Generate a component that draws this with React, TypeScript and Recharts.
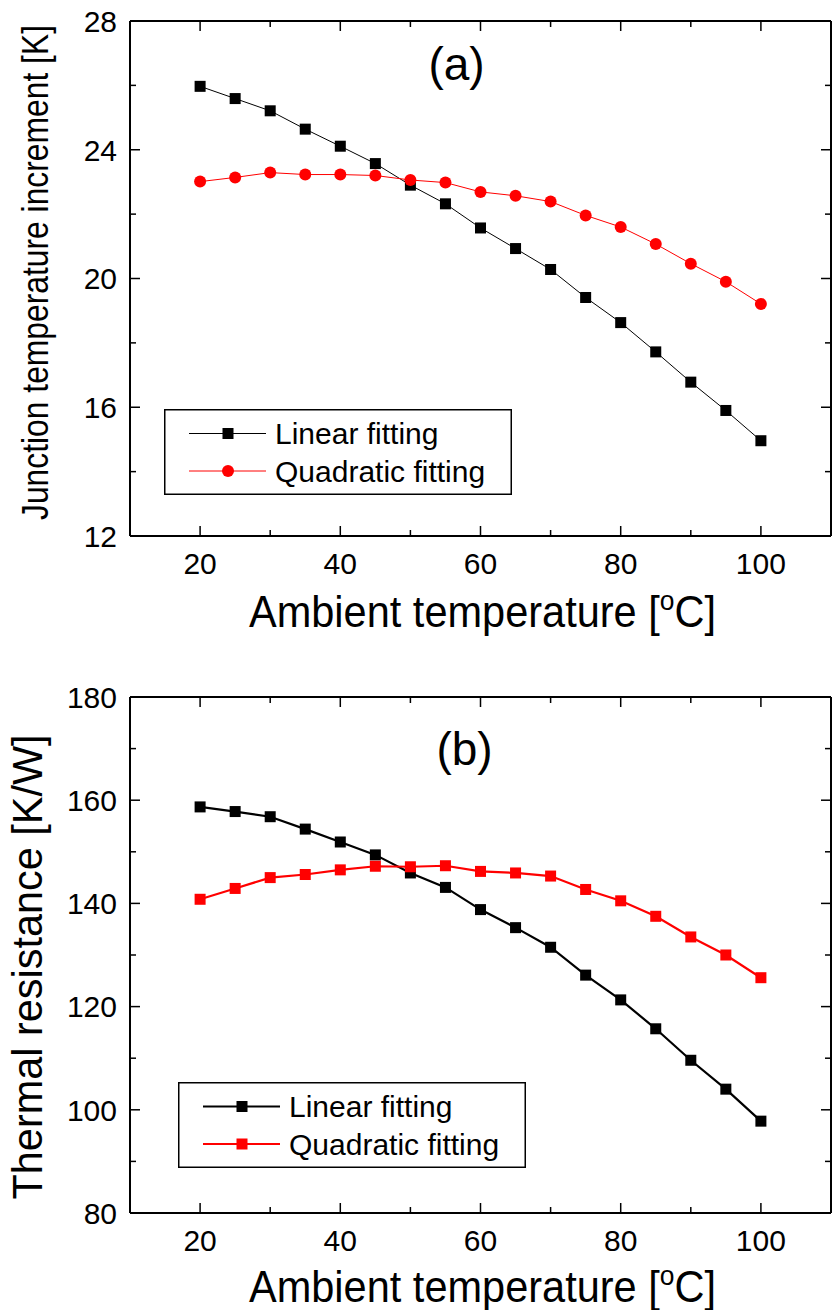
import React from 'react';
import { LineChart, Line, XAxis, YAxis, Legend } from 'recharts';

// Ambient temperature sweep (°C)
const ambientTemps = [20, 25, 30, 35, 40, 45, 50, 55, 60, 65, 70, 75, 80, 85, 90, 95, 100];

// (a) Junction temperature increment [K]
const junctionLinear = [25.97, 25.59, 25.21, 24.64, 24.11, 23.57, 22.9, 22.32, 21.57, 20.93, 20.28, 19.41, 18.63, 17.72, 16.78, 15.9, 14.96];
const junctionQuadratic = [23.01, 23.14, 23.29, 23.23, 23.23, 23.2, 23.06, 22.98, 22.69, 22.57, 22.39, 21.96, 21.6, 21.07, 20.46, 19.9, 19.21];

// (b) Thermal resistance [K/W]
const resistanceLinear = [158.7, 157.8, 156.8, 154.4, 151.9, 149.4, 145.9, 143.1, 138.8, 135.3, 131.5, 126.1, 121.3, 115.7, 109.6, 104.0, 97.8];
const resistanceQuadratic = [140.8, 142.9, 145.0, 145.6, 146.5, 147.2, 147.1, 147.3, 146.2, 145.9, 145.3, 142.7, 140.5, 137.5, 133.5, 130.0, 125.6];

// Axis ticks (majors are labelled, the rest are minor marks)
const xTicks = [20, 30, 40, 50, 60, 70, 80, 90, 100];
const xMajorTicks = [20, 40, 60, 80, 100];
const junctionTicks = [12, 14, 16, 18, 20, 22, 24, 26, 28];
const junctionMajorTicks = [12, 16, 20, 24, 28];
const resistanceTicks = [80, 90, 100, 110, 120, 130, 140, 150, 160, 170, 180];
const resistanceMajorTicks = [80, 100, 120, 140, 160, 180];

const seriesNames = ['Linear fitting', 'Quadratic fitting'];

const FONT = '"Liberation Sans", Arial, Helvetica, sans-serif';
const BLACK = '#000000';
const RED = '#ff0000';
const MAJOR = 10;
const MINOR = 6;

const buildRows = (lin: number[], quad: number[]) =>
  ambientTemps.map((t, i) => ({ t, linear: lin[i], quadratic: quad[i] }));

const junctionData = buildRows(junctionLinear, junctionQuadratic);
const resistanceData = buildRows(resistanceLinear, resistanceQuadratic);

type Side = 'left' | 'right' | 'top' | 'bottom';

const makeTick = (side: Side, majors: number[]) => (props: any) => {
  const { x, y, payload, index } = props;
  const v = payload.value;
  const len = majors.includes(v) ? MAJOR : MINOR;
  const showLabel = majors.includes(v);
  let line;
  let label = null;
  if (side === 'left') {
    line = <line x1={x} x2={x + len} y1={y} y2={y} stroke={BLACK} strokeWidth={1.5} />;
    if (showLabel)
      label = (
        <text x={x - 13} y={y} dy="0.36em" textAnchor="end" fontSize={30} fontFamily={FONT} fill={BLACK}>
          {v}
        </text>
      );
  } else if (side === 'right') {
    line = <line x1={x} x2={x - len} y1={y} y2={y} stroke={BLACK} strokeWidth={1.5} />;
  } else if (side === 'top') {
    line = <line x1={x} x2={x} y1={y} y2={y + len} stroke={BLACK} strokeWidth={1.5} />;
  } else {
    line = <line x1={x} x2={x} y1={y} y2={y - len} stroke={BLACK} strokeWidth={1.5} />;
    if (showLabel)
      label = (
        <text x={x} y={y + 38} textAnchor="middle" fontSize={30} fontFamily={FONT} fill={BLACK}>
          {v}
        </text>
      );
  }
  return (
    <g key={`tick-${side}-${index}`}>
      {line}
      {label}
    </g>
  );
};

const squareDot = (color: string) => (props: any) => {
  const { cx, cy, index } = props;
  if (cx == null || cy == null) return <g key={`sq-${index}`} />;
  return <rect key={`sq-${index}`} x={cx - 5.5} y={cy - 5.5} width={11} height={11} fill={color} />;
};

type Marker = 'square' | 'circle';

const legendContent =
  (markers: Record<string, Marker>, strokeWidth: number) =>
  (props: any) => {
    const payload = props.payload || [];
    return (
      <svg width={348} height={86} style={{ display: 'block', overflow: 'visible' }}>
        <rect x={0.75} y={0.75} width={346.5} height={84.5} fill="#ffffff" stroke={BLACK} strokeWidth={1.5} />
        {payload.map((item: any, i: number) => {
          const cy = 24.5 + i * 37.5;
          const color = item.color;
          const marker = markers[item.dataKey as string];
          return (
            <g key={`legend-${i}`}>
              <line x1={25} x2={102} y1={cy} y2={cy} stroke={color} strokeWidth={strokeWidth} />
              {marker === 'square' ? (
                <rect x={64 - 5.5} y={cy - 5.5} width={11} height={11} fill={color} />
              ) : (
                <circle cx={64} cy={cy} r={6} fill={color} />
              )}
              <text x={111} y={cy + 10.5} fontSize={30} fontFamily={FONT} fill={BLACK}>
                {item.value}
              </text>
            </g>
          );
        })}
      </svg>
    );
  };

interface PanelProps {
  data: any[];
  yDomain: [number, number];
  yTicks: number[];
  yMajors: number[];
  yTitle: string;
  yTitleSize: number;
  yTitleLength: number;
  yTitleBaseline: number;
  yTitleShift: number;
  panelLabel: string;
  panelLabelShift: number;
  panelLabelDrop: number;
  xTitleDrop: number;
  marginTop: number;
  marginBottom: number;
  legendTop: number;
  legendLeft: number;
  lineWidth: number;
  quadraticMarker: Marker;
}

function Panel(p: PanelProps) {
  const xTitle = (lp: any) => {
    const vb = lp.viewBox;
    return (
      <text
        x={vb.x + vb.width / 2 + 2}
        y={vb.y + p.xTitleDrop}
        textAnchor="middle"
        fontSize={44}
        fontFamily={FONT}
        fill={BLACK}
        textLength={467}
        lengthAdjust="spacingAndGlyphs"
      >
        Ambient temperature [
        <tspan fontSize={28} dy={-17}>o</tspan>
        <tspan dy={17}>C]</tspan>
      </text>
    );
  };

  const yTitle = (lp: any) => {
    const vb = lp.viewBox;
    const cy = vb.y + vb.height / 2 + p.yTitleShift;
    const bx = p.yTitleBaseline;
    return (
      <text
        x={bx}
        y={cy}
        transform={`rotate(-90, ${bx}, ${cy})`}
        textAnchor="middle"
        fontSize={p.yTitleSize}
        fontFamily={FONT}
        fill={BLACK}
        textLength={p.yTitleLength}
        lengthAdjust="spacingAndGlyphs"
      >
        {p.yTitle}
      </text>
    );
  };

  const panelTag = (lp: any) => {
    const vb = lp.viewBox;
    return (
      <text
        x={vb.x + vb.width / 2 + p.panelLabelShift}
        y={vb.y + vb.height + p.panelLabelDrop}
        textAnchor="middle"
        fontSize={46}
        fontFamily={FONT}
        fill={BLACK}
      >
        {p.panelLabel}
      </text>
    );
  };

  const markers: Record<string, Marker> = { linear: 'square', quadratic: p.quadraticMarker };
  const axisLine = { stroke: BLACK, strokeWidth: 2 };

  return (
    <LineChart
      width={832}
      height={655}
      data={p.data}
      margin={{ top: p.marginTop, right: 0, bottom: p.marginBottom, left: 0 }}
      style={{ display: 'block' }}
    >
      <XAxis
        xAxisId="bottom"
        dataKey="t"
        type="number"
        orientation="bottom"
        domain={[10, 110]}
        allowDataOverflow
        ticks={xTicks}
        interval={0}
        height={80}
        tickSize={0}
        tickMargin={0}
        tickLine={false}
        axisLine={axisLine}
        tick={makeTick('bottom', xMajorTicks)}
        label={xTitle}
      />
      <XAxis
        xAxisId="top"
        dataKey="t"
        type="number"
        orientation="top"
        domain={[10, 110]}
        allowDataOverflow
        ticks={xTicks}
        interval={0}
        height={1}
        tickSize={0}
        tickMargin={0}
        tickLine={false}
        axisLine={axisLine}
        tick={makeTick('top', xMajorTicks)}
        label={panelTag}
      />
      <YAxis
        yAxisId="left"
        type="number"
        orientation="left"
        domain={p.yDomain}
        allowDataOverflow
        ticks={p.yTicks}
        interval={0}
        width={130}
        tickSize={0}
        tickMargin={0}
        tickLine={false}
        axisLine={axisLine}
        tick={makeTick('left', p.yMajors)}
        label={yTitle}
      />
      <YAxis
        yAxisId="right"
        type="number"
        orientation="right"
        domain={p.yDomain}
        allowDataOverflow
        ticks={p.yTicks}
        interval={0}
        width={1}
        tickSize={0}
        tickMargin={0}
        tickLine={false}
        axisLine={axisLine}
        tick={makeTick('right', p.yMajors)}
      />
      <Legend
        layout="vertical"
        align="center"
        verticalAlign="middle"
        width={348}
        height={86}
        wrapperStyle={{ left: p.legendLeft, top: p.legendTop, width: 348, height: 86 }}
        content={legendContent(markers, p.lineWidth)}
      />
      <Line
        xAxisId="bottom"
        yAxisId="left"
        dataKey="linear"
        name={seriesNames[0]}
        stroke={BLACK}
        strokeWidth={p.lineWidth}
        dot={squareDot(BLACK)}
        activeDot={false}
        isAnimationActive={false}
      />
      <Line
        xAxisId="bottom"
        yAxisId="left"
        dataKey="quadratic"
        name={seriesNames[1]}
        stroke={RED}
        strokeWidth={p.lineWidth}
        dot={p.quadraticMarker === 'square' ? squareDot(RED) : { r: 6, fill: RED, stroke: RED, strokeWidth: 0 }}
        activeDot={false}
        isAnimationActive={false}
      />
    </LineChart>
  );
}

export default function App() {
  return (
    <div
      style={{
        position: 'absolute',
        left: 0,
        top: 0,
        width: 832,
        height: 1310,
        background: '#ffffff',
        fontFamily: FONT,
      }}
    >
      <Panel
        data={junctionData}
        yDomain={[12, 28]}
        yTicks={junctionTicks}
        yMajors={junctionMajorTicks}
        yTitle="Junction temperature increment [K]"
        yTitleSize={37}
        yTitleLength={495}
        yTitleBaseline={48}
        yTitleShift={-6}
        panelLabel="(a)"
        panelLabelShift={-24}
        panelLabelDrop={59}
        xTitleDrop={91}
        marginTop={20}
        marginBottom={39}
        legendLeft={164}
        legendTop={409}
        lineWidth={1}
        quadraticMarker="circle"
      />
      <Panel
        data={resistanceData}
        yDomain={[80, 180]}
        yTicks={resistanceTicks}
        yMajors={resistanceMajorTicks}
        yTitle="Thermal resistance [K/W]"
        yTitleSize={43}
        yTitleLength={465}
        yTitleBaseline={42}
        yTitleShift={12}
        panelLabel="(b)"
        panelLabelShift={-16}
        panelLabelDrop={68}
        xTitleDrop={89}
        marginTop={41}
        marginBottom={17}
        legendLeft={178}
        legendTop={427}
        lineWidth={2.2}
        quadraticMarker="square"
      />
    </div>
  );
}
